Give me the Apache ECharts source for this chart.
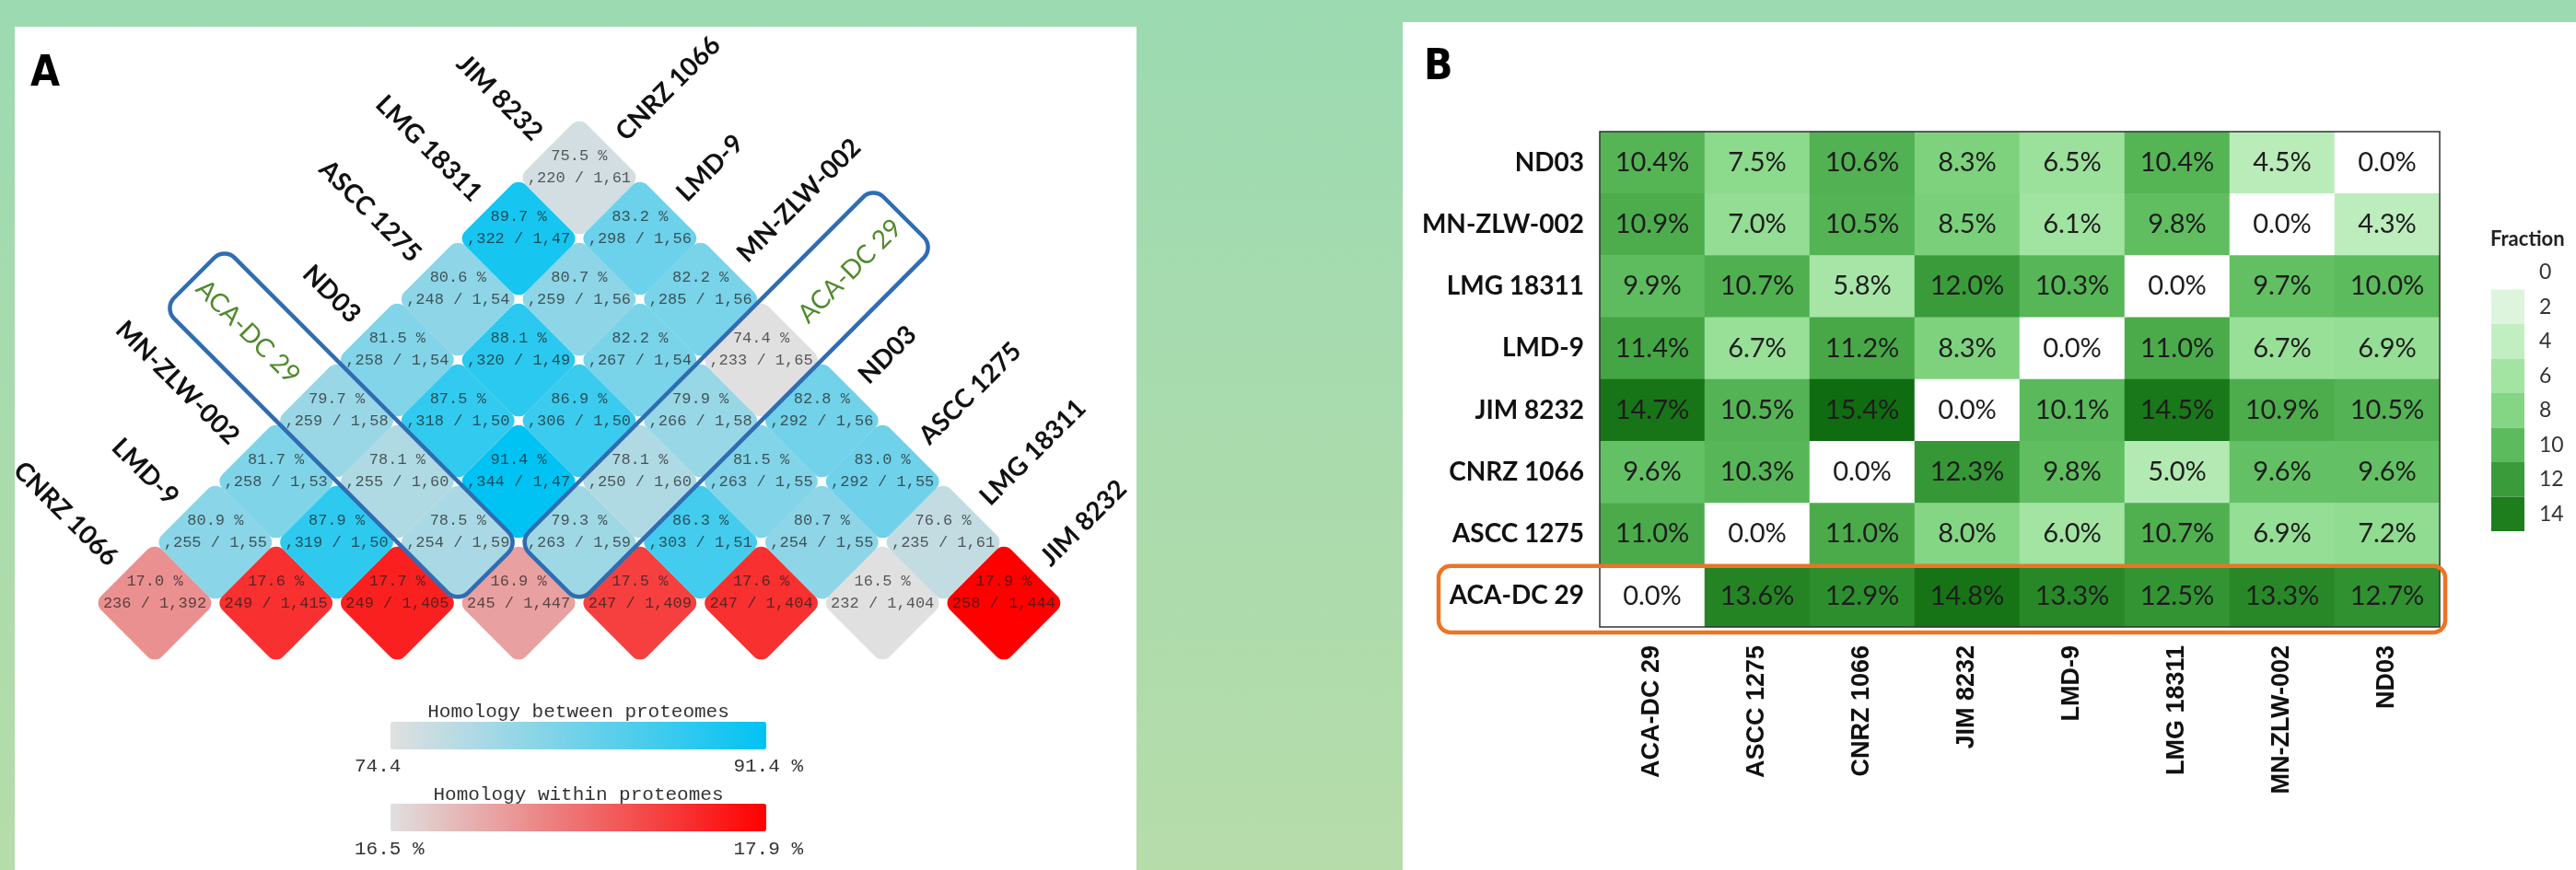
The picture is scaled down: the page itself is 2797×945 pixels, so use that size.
<!DOCTYPE html>
<html><head><meta charset="utf-8">
<script src="https://cdn.jsdelivr.net/npm/echarts@6/dist/echarts.min.js"></script>
<style>html,body{margin:0;padding:0;width:2797px;height:945px;overflow:hidden}#c{width:2797px;height:945px}</style>
</head><body><div id="c"></div><script>
// ---------- Panel A data ----------
const strains = ['CNRZ 1066','LMD-9','MN-ZLW-002','ACA-DC 29','ND03','ASCC 1275','LMG 18311','JIM 8232'];
const withinPct = [17.0,17.6,17.7,16.9,17.5,17.6,16.5,17.9];
const withinCounts = ['236 / 1,392','249 / 1,415','249 / 1,405','245 / 1,447','247 / 1,409','247 / 1,404','232 / 1,404','258 / 1,444'];
// [strain i, strain j, homology %, visible count text]
const betweenCells = [
 [0,1,80.9,',255 / 1,55'],[1,2,87.9,',319 / 1,50'],[2,3,78.5,',254 / 1,59'],[3,4,79.3,',263 / 1,59'],
 [4,5,86.3,',303 / 1,51'],[5,6,80.7,',254 / 1,55'],[6,7,76.6,',235 / 1,61'],
 [0,2,81.7,',258 / 1,53'],[1,3,78.1,',255 / 1,60'],[2,4,91.4,',344 / 1,47'],[3,5,78.1,',250 / 1,60'],
 [4,6,81.5,',263 / 1,55'],[5,7,83.0,',292 / 1,55'],
 [0,3,79.7,',259 / 1,58'],[1,4,87.5,',318 / 1,50'],[2,5,86.9,',306 / 1,50'],[3,6,79.9,',266 / 1,58'],[4,7,82.8,',292 / 1,56'],
 [0,4,81.5,',258 / 1,54'],[1,5,88.1,',320 / 1,49'],[2,6,82.2,',267 / 1,54'],[3,7,74.4,',233 / 1,65'],
 [0,5,80.6,',248 / 1,54'],[1,6,80.7,',259 / 1,56'],[2,7,82.2,',285 / 1,56'],
 [0,6,89.7,',322 / 1,47'],[1,7,83.2,',298 / 1,56'],
 [0,7,75.5,',220 / 1,61']
];
const highlightStrain = 'ACA-DC 29';

// ---------- Panel B data ----------
const heatCats = ['ACA-DC 29','ASCC 1275','CNRZ 1066','JIM 8232','LMD-9','LMG 18311','MN-ZLW-002','ND03'];
// rows listed top to bottom, values per column in heatCats order
const heatRowNames = ['ND03','MN-ZLW-002','LMG 18311','LMD-9','JIM 8232','CNRZ 1066','ASCC 1275','ACA-DC 29'];
const fracND03   = [10.4, 7.5,10.6, 8.3, 6.5,10.4, 4.5, 0.0];
const fracMNZLW  = [10.9, 7.0,10.5, 8.5, 6.1, 9.8, 0.0, 4.3];
const fracLMG    = [ 9.9,10.7, 5.8,12.0,10.3, 0.0, 9.7,10.0];
const fracLMD    = [11.4, 6.7,11.2, 8.3, 0.0,11.0, 6.7, 6.9];
const fracJIM    = [14.7,10.5,15.4, 0.0,10.1,14.5,10.9,10.5];
const fracCNRZ   = [ 9.6,10.3, 0.0,12.3, 9.8, 5.0, 9.6, 9.6];
const fracASCC   = [11.0, 0.0,11.0, 8.0, 6.0,10.7, 6.9, 7.2];
const fracACADC  = [ 0.0,13.6,12.9,14.8,13.3,12.5,13.3,12.7];
const fracRows = [fracND03,fracMNZLW,fracLMG,fracLMD,fracJIM,fracCNRZ,fracASCC,fracACADC];
const fractionTicks = [0,2,4,6,8,10,12,14];
const greenStops = ['#ffffff','#dcf5dc','#c2efc2','#a3e4a3','#84d684','#5cbb5c','#3a9b3a','#1e7e1e','#0a640a'];

// ---------- derived ----------
const betweenPct = betweenCells.map(c => c[2]);
const bMin = Math.min(...betweenPct), bMax = Math.max(...betweenPct);
const wMin = Math.min(...withinPct), wMax = Math.max(...withinPct);
const heatData = [];
heatRowNames.forEach((rn, r) => {
  const yi = heatCats.indexOf(rn);
  fracRows[r].forEach((v, xi) => heatData.push([xi, yi, v]));
});

const MONO = '"Liberation Mono", "DejaVu Sans Mono", monospace';
const SANS = 'Lato, "Open Sans", sans-serif';
const CELL_TEXT = 'rgba(30,30,30,0.72)';

function cellItem(texts) {
  return function (params, api) {
    const i = api.value(0), j = api.value(1);
    const cx = (i + j) / 2, cy = j - i;
    const c = api.coord([cx, cy]);
    const l = api.coord([cx - 0.5, cy]);
    const t = api.coord([cx, cy + 1]);
    const side = Math.hypot(t[0] - l[0], t[1] - l[1]);
    const lineGap = (l[1] - t[1]) * 0.35;
    return { type: 'group', children: [
      { type: 'rect', x: c[0], y: c[1], rotation: Math.PI / 4,
        shape: { x: -side / 2, y: -side / 2, width: side, height: side, r: 11 },
        style: { fill: api.visual('color') } },
      { type: 'text', x: c[0], y: c[1] - lineGap,
        style: { text: api.value(2).toFixed(1) + ' %', font: '17px ' + MONO, fill: CELL_TEXT, align: 'center', verticalAlign: 'middle' } },
      { type: 'text', x: c[0], y: c[1],
        style: { text: texts[params.dataIndex], font: '17px ' + MONO, fill: CELL_TEXT, align: 'center', verticalAlign: 'middle' } }
    ]};
  };
}

function labelItem(params, api) {
  const k = params.dataIndex, n = strains.length - 1;
  const name = strains[k];
  const hl = name === highlightStrain;
  const d = 0.18;
  const pL = api.coord([k / 2 - 0.25 - 0.5 * d, k + 0.5 + d]);
  const cx = (k + n) / 2, cy = n - k;
  const pR = api.coord([cx + 0.25 + 0.5 * d, cy + 0.5 + d]);
  const font = (hl ? '' : 'bold ') + '28px ' + SANS;
  const fill = hl ? '#4f8a2c' : '#111111';
  return { type: 'group', children: [
    { type: 'text', x: pL[0], y: pL[1], rotation: -Math.PI / 4,
      style: { text: name, font: font, fill: fill, align: 'right', verticalAlign: 'middle' } },
    { type: 'text', x: pR[0], y: pR[1], rotation: Math.PI / 4,
      style: { text: name, font: font, fill: fill, align: 'left', verticalAlign: 'middle' } }
  ]};
}

function stripRect(a, b, side) {
  const dx = b[0] - a[0], dy = b[1] - a[1];
  const L = Math.hypot(dx, dy);
  return { type: 'rect', x: (a[0] + b[0]) / 2, y: (a[1] + b[1]) / 2, rotation: -Math.atan2(dy, dx),
    shape: { x: -L / 2, y: -side / 2, width: L, height: side, r: 16 },
    style: { fill: 'none', stroke: '#2f6db3', lineWidth: 4.5 } };
}
function boxItem(params, api) {
  const k = api.value(0), n = strains.length - 1, ext = 1.85;
  const l = api.coord([0, 0]), t = api.coord([0.5, 1]);
  const side = Math.hypot(t[0] - l[0], t[1] - l[1]);
  const pt = i => api.coord([(i + k) / 2, k - i]);      // along diagonal (i,k)
  const qt = j => api.coord([(k + j) / 2, j - k]);      // along diagonal (k,j)
  return { type: 'group', children: [
    stripRect(pt(-0.5 - ext), pt(k - 0.5), side),
    stripRect(qt(k + 0.5), qt(n + 0.5 + ext), side)
  ]};
}

function orangeBox(params, api) {
  const p0 = api.coord([0, api.value(0)]);
  const p7 = api.coord([heatCats.length - 1, api.value(0)]);
  const s = api.size([1, 1]);
  const top = p0[1] - s[1] / 2, left = p0[0] - s[0] / 2 - 175, right = p7[0] + s[0] / 2 + 6;
  return { type: 'rect', shape: { x: left, y: top + 1, width: right - left, height: s[1] + 5, r: 13 },
    style: { fill: 'none', stroke: '#ee7322', lineWidth: 4.5 } };
}

const chart = echarts.init(document.getElementById('c'), null, { renderer: 'canvas' });
const option = {
  animation: false,
  backgroundColor: { type: 'linear', x: 0, y: 0, x2: 0, y2: 1,
    colorStops: [{ offset: 0, color: '#9cdab1' }, { offset: 1, color: '#b6dcaa' }] },
  graphic: [
    { type: 'rect', z: -10, shape: { x: 16, y: 29, width: 1218, height: 930 }, style: { fill: '#ffffff' } },
    { type: 'rect', z: -10, shape: { x: 1523, y: 24, width: 1290, height: 930 }, style: { fill: '#ffffff' } },
    { type: 'text', x: 33, y: 81, style: { text: 'A', font: 'bold 46px "DejaVu Sans Condensed", "DejaVu Sans"', fill: '#000', align: 'left', verticalAlign: 'middle' } },
    { type: 'text', x: 1546, y: 74, style: { text: 'B', font: 'bold 46px "DejaVu Sans Condensed", "DejaVu Sans"', fill: '#000', align: 'left', verticalAlign: 'middle' } },
    { type: 'text', x: 628, y: 773, style: { text: 'Homology between proteomes', font: '21px ' + MONO, fill: '#333', align: 'center', verticalAlign: 'middle' } },
    { type: 'text', x: 385, y: 832, style: { text: bMin.toFixed(1), font: '21px ' + MONO, fill: '#333', align: 'left', verticalAlign: 'middle' } },
    { type: 'text', x: 872, y: 832, style: { text: bMax.toFixed(1) + ' %', font: '21px ' + MONO, fill: '#333', align: 'right', verticalAlign: 'middle' } },
    { type: 'text', x: 628, y: 863, style: { text: 'Homology within proteomes', font: '21px ' + MONO, fill: '#333', align: 'center', verticalAlign: 'middle' } },
    { type: 'text', x: 385, y: 922, style: { text: wMin.toFixed(1) + ' %', font: '21px ' + MONO, fill: '#333', align: 'left', verticalAlign: 'middle' } },
    { type: 'text', x: 872, y: 922, style: { text: wMax.toFixed(1) + ' %', font: '21px ' + MONO, fill: '#333', align: 'right', verticalAlign: 'middle' } },
    { type: 'text', x: 2704, y: 260, style: { text: 'Fraction', font: 'bold 22px ' + SANS, fill: '#222', align: 'left', verticalAlign: 'middle' } }
  ],
  grid: [
    { left: 36.3, top: 127, width: 1185.3, height: 594, show: false },
    { left: 1737, top: 143, width: 912, height: 538, show: true, z: 10, borderColor: '#333', borderWidth: 1.5, backgroundColor: 'transparent' }
  ],
  xAxis: [
    { type: 'value', gridIndex: 0, min: -1, max: 8, show: false },
    { type: 'category', gridIndex: 1, data: heatCats, axisTick: { show: false }, axisLine: { show: false },
      axisLabel: { rotate: 90, margin: 20, fontSize: 27, fontWeight: 'bold', fontFamily: '"Liberation Sans", Arial, sans-serif', color: '#111' } }
  ],
  yAxis: [
    { type: 'value', gridIndex: 0, min: -1, max: 8, show: false },
    { type: 'category', gridIndex: 1, data: heatCats, axisTick: { show: false }, axisLine: { show: false },
      axisLabel: { margin: 17, fontSize: 28, fontWeight: 'bold', fontFamily: SANS, color: '#111' } }
  ],
  visualMap: [
    { type: 'continuous', seriesIndex: 1, dimension: 2, min: bMin, max: bMax, orient: 'horizontal',
      left: 424, top: 784, itemWidth: 30, itemHeight: 408, calculable: false, hoverLink: false, padding: 0,
      inRange: { color: ['#e0e0e0', '#00c3f3'] }, text: null, showLabel: false },
    { type: 'continuous', seriesIndex: 0, dimension: 2, min: wMin, max: wMax, orient: 'horizontal',
      left: 424, top: 873, itemWidth: 30, itemHeight: 408, calculable: false, hoverLink: false, padding: 0,
      inRange: { color: ['#e0e0e0', '#ff0000'] }, text: null, showLabel: false },
    { type: 'continuous', seriesIndex: 4, dimension: 2, min: 0, max: 16, show: false,
      inRange: { color: greenStops } },
    { type: 'piecewise', seriesIndex: 6, orient: 'vertical', left: 2705, top: 277, padding: 0, align: 'left',
      itemWidth: 36, itemHeight: 37.5, itemGap: 0, itemSymbol: 'rect', textGap: 16, selectedMode: false, inverse: true,
      hoverLink: false,
      textStyle: { fontSize: 23, color: '#333', fontFamily: SANS },
      pieces: fractionTicks.map((v, i) => ({ value: v, label: String(v), color: greenStops[i] })) }
  ],
  series: [
    { type: 'custom', xAxisIndex: 0, yAxisIndex: 0, renderItem: cellItem(withinCounts),
      data: withinPct.map((v, i) => [i, i, v]), silent: true },
    { type: 'custom', xAxisIndex: 0, yAxisIndex: 0, renderItem: cellItem(betweenCells.map(c => c[3])),
      data: betweenCells.map(c => [c[0], c[1], c[2]]), silent: true },
    { type: 'custom', xAxisIndex: 0, yAxisIndex: 0, renderItem: labelItem, z: 4,
      data: strains.map((s, i) => [i, 0]), silent: true },
    { type: 'custom', xAxisIndex: 0, yAxisIndex: 0, renderItem: boxItem, z: 5,
      data: [[strains.indexOf(highlightStrain), 0]], silent: true },
    { type: 'heatmap', xAxisIndex: 1, yAxisIndex: 1, data: heatData, silent: true,
      label: { show: true, formatter: p => p.value[2].toFixed(1) + '%', fontSize: 29, fontFamily: SANS, color: '#1d1d1d' },
      emphasis: { disabled: true } },
    { type: 'custom', xAxisIndex: 1, yAxisIndex: 1, renderItem: orangeBox, z: 12,
      data: [[heatCats.indexOf(highlightStrain), heatCats.indexOf(highlightStrain)]], silent: true },
    { type: 'scatter', xAxisIndex: 1, yAxisIndex: 1, data: [], silent: true }
  ]
};
chart.setOption(option);
</script></body></html>
